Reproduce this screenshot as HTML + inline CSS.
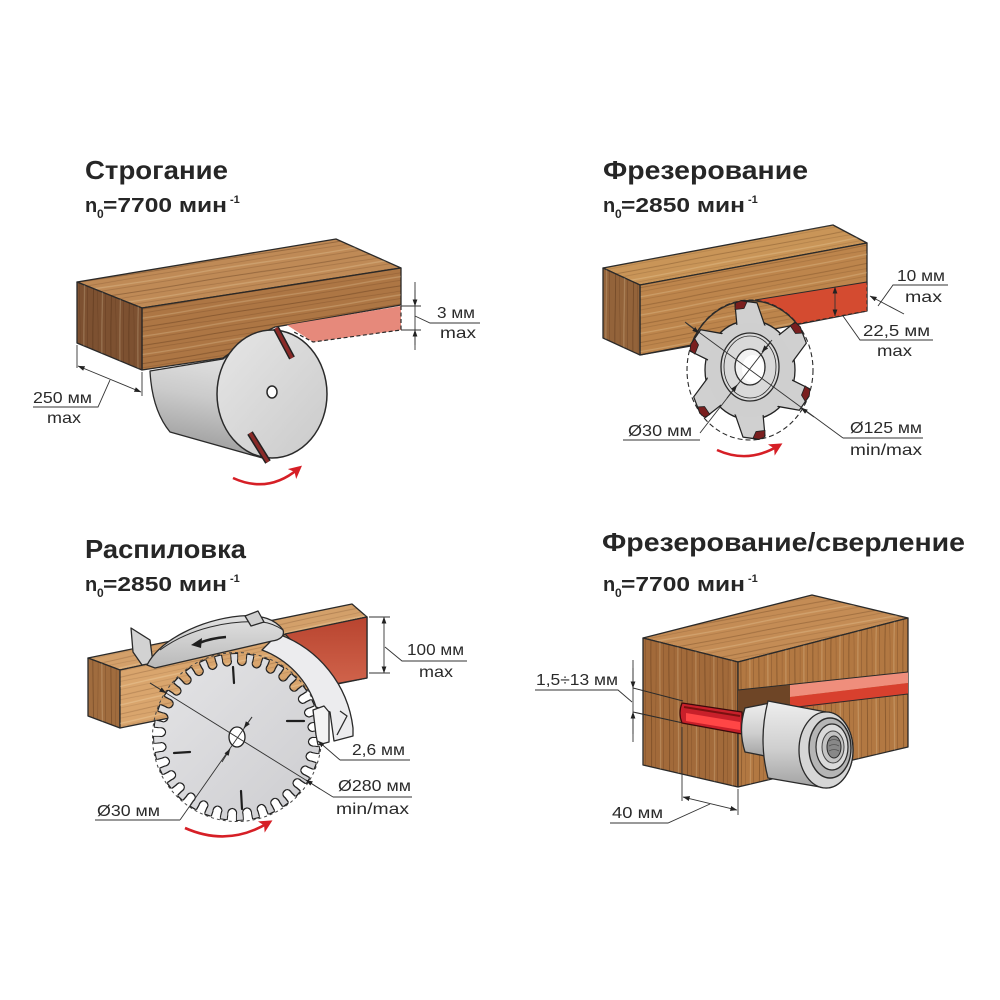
<!DOCTYPE html>
<html><head><meta charset="utf-8"><style>
html,body{margin:0;padding:0;background:#fff;}
svg{display:block;}
text{font-family:"Liberation Sans","DejaVu Sans",sans-serif;}
</style></head><body>
<svg width="1000" height="1000" viewBox="0 0 1000 1000" xmlns="http://www.w3.org/2000/svg">
<defs>
<marker id="a" viewBox="0 0 10 10" refX="9.5" refY="5" markerUnits="userSpaceOnUse" markerWidth="7" markerHeight="7" orient="auto-start-reverse"><path d="M0,1.5 L10,5 L0,8.5 Z" fill="#222"/></marker>
<marker id="ra" viewBox="0 0 10 10" refX="6" refY="5" markerUnits="userSpaceOnUse" markerWidth="13" markerHeight="13" orient="auto"><path d="M0,0 L10,5 L0,10 L2.5,5 Z" fill="#d61f26"/></marker>
<pattern id="gh1" width="160" height="18" patternUnits="userSpaceOnUse" patternTransform="rotate(-9)">
<path d="M0,3 C40,2 80,5 160,3" stroke="#3a1a05" stroke-opacity=".3" stroke-width="1" fill="none"/>
<path d="M0,8 C50,9 100,6 160,8" stroke="#3a1a05" stroke-opacity=".2" stroke-width=".7" fill="none"/>
<path d="M0,12 C60,11 90,14 160,12" stroke="#fff0c8" stroke-opacity=".22" stroke-width="1.3" fill="none"/>
<path d="M0,15.5 C40,16 120,15 160,15.5" stroke="#3a1a05" stroke-opacity=".3" stroke-width=".6" fill="none"/>
</pattern>
<pattern id="gh2" width="160" height="18" patternUnits="userSpaceOnUse" patternTransform="rotate(-10.5)">
<path d="M0,3 C40,2 80,5 160,3" stroke="#3a1a05" stroke-opacity=".25" stroke-width="1" fill="none"/>
<path d="M0,8 C50,9 100,6 160,8" stroke="#3a1a05" stroke-opacity=".18" stroke-width=".7" fill="none"/>
<path d="M0,12 C60,11 90,14 160,12" stroke="#fff0c8" stroke-opacity=".22" stroke-width="1.3" fill="none"/>
<path d="M0,15.5 C40,16 120,15 160,15.5" stroke="#3a1a05" stroke-opacity=".25" stroke-width=".6" fill="none"/>
</pattern>
<pattern id="gh3" width="160" height="18" patternUnits="userSpaceOnUse" patternTransform="rotate(-12)">
<path d="M0,3 C40,2 80,5 160,3" stroke="#3a1a05" stroke-opacity=".2" stroke-width="1" fill="none"/>
<path d="M0,8 C50,9 100,6 160,8" stroke="#3a1a05" stroke-opacity=".15" stroke-width=".7" fill="none"/>
<path d="M0,12 C60,11 90,14 160,12" stroke="#fff0c8" stroke-opacity=".25" stroke-width="1.3" fill="none"/>
<path d="M0,15.5 C40,16 120,15 160,15.5" stroke="#3a1a05" stroke-opacity=".2" stroke-width=".6" fill="none"/>
</pattern>
<pattern id="gv" width="18" height="160" patternUnits="userSpaceOnUse">
<path d="M3,0 C2,40 5,80 3,160" stroke="#3a1a05" stroke-opacity=".3" stroke-width="1" fill="none"/>
<path d="M8,0 C9,50 6,100 8,160" stroke="#3a1a05" stroke-opacity=".2" stroke-width=".7" fill="none"/>
<path d="M12,0 C11,60 14,90 12,160" stroke="#fff0c8" stroke-opacity=".2" stroke-width="1.3" fill="none"/>
<path d="M15.5,0 C16,40 15,120 15.5,160" stroke="#3a1a05" stroke-opacity=".3" stroke-width=".6" fill="none"/>
</pattern>
<linearGradient id="cyl1" gradientUnits="userSpaceOnUse" x1="205" y1="340" x2="185" y2="450"><stop offset="0" stop-color="#e8e8e8"/><stop offset=".5" stop-color="#cbcbcb"/><stop offset="1" stop-color="#9c9c9c"/></linearGradient>
<linearGradient id="face1" x1="0" y1="0" x2="1" y2="1"><stop offset="0" stop-color="#e6e6e6"/><stop offset="1" stop-color="#cacaca"/></linearGradient>
<linearGradient id="metalV" x1="0" y1="0" x2="0" y2="1"><stop offset="0" stop-color="#eeeeee"/><stop offset=".55" stop-color="#cfcfcf"/><stop offset="1" stop-color="#a2a2a2"/></linearGradient>
<linearGradient id="blade" x1="0" y1="0" x2="1" y2="1"><stop offset="0" stop-color="#e4e4e6"/><stop offset="1" stop-color="#cdcdd0"/></linearGradient>
<linearGradient id="red3" x1="0" y1="0" x2="0" y2="1"><stop offset="0" stop-color="#b8442f"/><stop offset="1" stop-color="#d0634b"/></linearGradient>
<linearGradient id="guard" x1="0" y1="0" x2="0" y2="1"><stop offset="0" stop-color="#e2e2e2"/><stop offset="1" stop-color="#b9b9b9"/></linearGradient>
<mask id="teeth" maskUnits="userSpaceOnUse" x="140" y="640" width="200" height="200">
<circle cx="237" cy="737" r="83" fill="#fff"/>
<circle cx="237" cy="737" r="80" fill="none" stroke="#000" stroke-width="8" stroke-dasharray="10 5.708"/>
<circle cx="237" cy="737" r="76" fill="none" stroke="#000" stroke-width="10" stroke-dasharray="0.01 14.9126" stroke-dashoffset="-4.75" stroke-linecap="round"/>
</mask>
<filter id="ol" x="-10%" y="-10%" width="120%" height="120%">
<feMorphology in="SourceAlpha" operator="dilate" radius="1.2" result="d"/>
<feFlood flood-color="#222"/>
<feComposite in2="d" operator="in" result="o"/>
<feMerge><feMergeNode in="o"/><feMergeNode in="SourceGraphic"/></feMerge>
</filter>
<g id="tooth">
<polygon points="40,-13 60,-15 63,-9 61,7 40,15" fill="#d0d0d0" stroke="#222" stroke-width="1.2" stroke-linejoin="round"/>
<polygon points="55,-15 61,-14.5 63,-9 62,-3 56,-6" fill="#7a1f1f" stroke="#222" stroke-width=".8"/>
</g>
</defs>

<rect width="1000" height="1000" fill="#fff"/>

<!-- ================= PANEL 1 ================= -->
<g stroke="#2a2a2a" stroke-width="1.3" stroke-linejoin="round">
<path d="M77,282 L336,239 L401,268 L142,308 Z" fill="#bf8a56"/>
<path d="M77,282 L336,239 L401,268 L142,308 Z" fill="url(#gh1)" stroke="none"/>
<path d="M142,370 L223,358 Q250,338 275,327 L287,325 L401,305 L401,268 L142,308 Z" fill="#ad7644"/>
<path d="M142,370 L223,358 Q250,338 275,327 L287,325 L401,305 L401,268 L142,308 Z" fill="url(#gh1)" stroke="none"/>
<path d="M77,282 L142,308 L142,370 L77,343 Z" fill="#7d5131"/>
<path d="M77,282 L142,308 L142,370 L77,343 Z" fill="url(#gv)" stroke="none"/>
<path d="M287,325 L401,306 L401,330 L313,342 Z" fill="#e6897b" stroke="none"/>
<path d="M401,306 L401,330 L313,342 L292,331" fill="none" stroke-dasharray="4 2.5" stroke-width="1.2"/>
<path d="M150,371 L223,359 Q240,345 262,334 L272,394 L266,459 L170,432 Q152,410 150,371 Z" fill="url(#cyl1)"/>
<ellipse cx="272" cy="394" rx="55" ry="64" fill="url(#face1)" stroke-width="1.5"/>
<line x1="276" y1="328" x2="292" y2="358" stroke="#222" stroke-width="6.5"/>
<line x1="276" y1="328" x2="292" y2="358" stroke="#8a2a28" stroke-width="3.5"/>
<line x1="250" y1="433" x2="268" y2="462" stroke="#222" stroke-width="6.5"/>
<line x1="250" y1="433" x2="268" y2="462" stroke="#8a2a28" stroke-width="3.5"/>
<ellipse cx="272" cy="392" rx="5" ry="6" fill="#fff" stroke-width="1.5"/>
</g>
<path d="M233,478 Q268,494 298,469" fill="none" stroke="#d61f26" stroke-width="2.6" marker-end="url(#ra)"/>
<g stroke="#333" stroke-width=".9" fill="none">
<line x1="415" y1="282" x2="415" y2="350"/>
<line x1="415" y1="290" x2="415" y2="306" marker-end="url(#a)"/>
<line x1="415" y1="345" x2="415" y2="330" marker-end="url(#a)"/>
<line x1="401" y1="306" x2="421" y2="306"/>
<line x1="401" y1="330" x2="421" y2="330"/>
<polyline points="415,316 430,323 480,323"/>
<line x1="77" y1="345" x2="77" y2="368"/>
<line x1="142" y1="372" x2="142" y2="396"/>
<line x1="78" y1="366" x2="141" y2="392" marker-start="url(#a)" marker-end="url(#a)"/>
<polyline points="110,380 98,407 33,407"/>
</g>

<!-- ================= PANEL 2 ================= -->
<g stroke="#2a2a2a" stroke-width="1.3" stroke-linejoin="round">
<path d="M603,268 L833,225 L867,243 L640,285 Z" fill="#c99558"/>
<path d="M603,268 L833,225 L867,243 L640,285 Z" fill="url(#gh2)" stroke="none"/>
<path d="M640,285 L867,243 L867,311 L640,355 Z" fill="#bd854c"/>
<path d="M640,285 L867,243 L867,311 L640,355 Z" fill="url(#gh2)" stroke="none"/>
<path d="M603,268 L640,285 L640,355 L603,338 Z" fill="#93633a"/>
<path d="M603,268 L640,285 L640,355 L603,338 Z" fill="url(#gv)" stroke="none"/>
<path d="M755,300 L867,282 L867,311 L797,324 A63,70 0 0 0 755,300 Z" fill="#d44b30" stroke="none"/>
<line x1="755" y1="300" x2="867" y2="282" stroke-width="1"/>
<path d="M797,324 L867,311 L867,282" fill="none" stroke-dasharray="4 2.5" stroke-width="1.1"/>
<path d="M640,355 L691,346" fill="none"/>
<ellipse cx="750" cy="370" rx="63" ry="70" fill="none" stroke-dasharray="5 3" stroke-width="1.1"/>
<path d="M691,346 A63,70 0 0 1 797,324" fill="none" stroke-width="1.4"/>
<g transform="translate(750,370) scale(1,1.1)">
<circle r="45" fill="#cfcfcf" stroke="#222" stroke-width="1.3"/>
<use href="#tooth" transform="rotate(-90)"/>
<use href="#tooth" transform="rotate(-30)"/>
<use href="#tooth" transform="rotate(30)"/>
<use href="#tooth" transform="rotate(90)"/>
<use href="#tooth" transform="rotate(150)"/>
<use href="#tooth" transform="rotate(210)"/>
<circle r="43" fill="#cfcfcf" stroke="none"/>
</g>
<ellipse cx="750" cy="367" rx="29" ry="34" fill="#d9d9d9"/>
<ellipse cx="750" cy="367" rx="26" ry="31" fill="none" stroke-width=".8"/>
<ellipse cx="750" cy="367" rx="15" ry="18" fill="#f2f2f2"/>
<ellipse cx="753" cy="369" rx="11" ry="14" fill="#fff" stroke="none"/>
</g>
<path d="M717,450 Q748,464 778,446" fill="none" stroke="#d61f26" stroke-width="2.6" marker-end="url(#ra)"/>
<g stroke="#333" stroke-width=".9" fill="none">
<line x1="685" y1="322" x2="843" y2="438"/>
<line x1="686" y1="323" x2="699" y2="333" marker-end="url(#a)"/>
<line x1="814" y1="417" x2="801" y2="408" marker-end="url(#a)"/>
<line x1="843" y1="438" x2="923" y2="438"/>
<line x1="700" y1="433" x2="770" y2="343"/>
<line x1="727" y1="398" x2="737" y2="385" marker-end="url(#a)"/>
<line x1="772" y1="340" x2="762" y2="352" marker-end="url(#a)"/>
<line x1="623" y1="440" x2="700" y2="440"/>
<line x1="835" y1="287" x2="835" y2="316" marker-start="url(#a)" marker-end="url(#a)"/>
<polyline points="843,316 860,340 933,340"/>
<line x1="870" y1="296" x2="904" y2="314" marker-start="url(#a)"/>
<polyline points="878,306 893,285 948,285"/>
</g>

<!-- ================= PANEL 3 ================= -->
<g stroke="#2a2a2a" stroke-width="1.3" stroke-linejoin="round">
<path d="M88,658 L352,604 L367,617 L120,670 Z" fill="#d3a06a"/>
<path d="M88,658 L352,604 L367,617 L120,670 Z" fill="url(#gh3)" stroke="none"/>
<path d="M88,658 L120,670 L120,728 L88,716 Z" fill="#a06c3e"/>
<path d="M88,658 L120,670 L120,728 L88,716 Z" fill="url(#gv)" stroke="none"/>
<path d="M120,670 L367,617 L367,678 L120,728 Z" fill="#d9a56d"/>
<path d="M120,670 L367,617 L367,678 L120,728 Z" fill="url(#gh3)" stroke="none"/>
<path d="M285,634 L367,617 L367,678 L335,684 Z" fill="url(#red3)"/>
</g>
<g filter="url(#ol)"><circle cx="237" cy="737" r="83" fill="url(#blade)" mask="url(#teeth)"/></g>
<circle cx="237" cy="737" r="84.5" fill="none" stroke="#444" stroke-width="1" stroke-dasharray="3 3"/>
<g stroke="#1e1e1e" stroke-width="2.2" stroke-linecap="round">
<line x1="233" y1="667" x2="234" y2="683"/>
<line x1="287" y1="721" x2="304" y2="721"/>
<line x1="174" y1="753" x2="190" y2="752"/>
<line x1="241" y1="791" x2="242" y2="809"/>
</g>
<ellipse cx="237" cy="737" rx="8" ry="10" fill="#fff" stroke="#222" stroke-width="1.3"/>
<g stroke="#333" stroke-width=".9" fill="none">
<line x1="150" y1="683" x2="333" y2="797"/>
<line x1="150" y1="683" x2="166" y2="693" marker-end="url(#a)"/>
<line x1="320" y1="789" x2="306" y2="780" marker-end="url(#a)"/>
<line x1="333" y1="797" x2="412" y2="797"/>
<line x1="180" y1="820" x2="252" y2="717"/>
<line x1="222" y1="762" x2="230" y2="749" marker-end="url(#a)"/>
<line x1="252" y1="717" x2="244" y2="728" marker-end="url(#a)"/>
<line x1="95" y1="820" x2="180" y2="820"/>
</g>
<g stroke="#2a2a2a" stroke-width="1.3" stroke-linejoin="round">
<path d="M278,634 A114,114 0 0 1 353,728 L353,736 L334,741 L330,712 L316,707 A89,89 0 0 0 262,650 Z" fill="#ececee"/>
<path d="M313,710 L324,706 L329,712 L329,742 L318,745 L316,735 Z" fill="#f4f4f4"/>
<path d="M340,711 L347,716 L337,735" fill="none"/>
<path d="M131,628 L150,640 L153,663 L142,665 L133,652 Z" fill="#d2d2d2"/>
<path d="M147,665 C160,640 200,620 240,616 C262,614 276,620 283,630 C285,636 280,640 272,641 L155,668 Z" fill="url(#guard)"/>
<path d="M160,650 C190,628 230,620 262,622 C272,623 280,628 283,630" fill="none" stroke-width="1"/>
<path d="M245,616 L258,611 L264,622 L251,626 Z" fill="#cfcfcf"/>
</g>
<path d="M226,637 Q212,638 199,643" fill="none" stroke="#1e1e1e" stroke-width="2.6"/>
<path d="M191,645 L202,638 L201,648 Z" fill="#1e1e1e"/>
<path d="M185,828 Q228,847 268,823" fill="none" stroke="#d61f26" stroke-width="2.6" marker-end="url(#ra)"/>
<g stroke="#333" stroke-width=".9" fill="none">
<line x1="384" y1="617" x2="384" y2="673" marker-start="url(#a)" marker-end="url(#a)"/>
<line x1="369" y1="617" x2="390" y2="617"/>
<line x1="369" y1="673" x2="390" y2="673"/>
<polyline points="385,647 402,661 467,661"/>
<line x1="340" y1="760" x2="318" y2="741" marker-end="url(#a)"/>
<line x1="340" y1="760" x2="410" y2="760"/>
</g>

<!-- ================= PANEL 4 ================= -->
<g stroke="#2a2a2a" stroke-width="1.3" stroke-linejoin="round">
<path d="M643,638 L812,595 L908,618 L738,662 Z" fill="#c48c55"/>
<path d="M643,638 L812,595 L908,618 L738,662 Z" fill="url(#gh2)" stroke="none"/>
<path d="M643,638 L738,662 L738,787 L643,765 Z" fill="#a26a3a"/>
<path d="M643,638 L738,662 L738,787 L643,765 Z" fill="url(#gv)" stroke="none"/>
<path d="M738,662 L908,618 L908,747 L738,787 Z" fill="#b27842"/>
<path d="M738,662 L908,618 L908,747 L738,787 Z" fill="url(#gv)" stroke="none"/>
<path d="M738,690 L790,685 L790,709 L738,714 Z" fill="#6e4526" stroke="none"/>
<path d="M790,685 L908,672 L908,683 L790,697 Z" fill="#ef8e7c" stroke="none"/>
<path d="M790,697 L908,683 L908,694 L790,709 Z" fill="#d8402e" stroke="none"/>
<line x1="738" y1="690" x2="908" y2="672" stroke-width="1"/>
<line x1="738" y1="714" x2="908" y2="694" stroke-width="1"/>
<line x1="633" y1="688" x2="683" y2="701" stroke-width="1"/>
<line x1="633" y1="712" x2="683" y2="723" stroke-width="1"/>
<path d="M682,703 L742,712 L742,734 L682,723 Q678,713 682,703 Z" fill="#c8202a" stroke="#3a0a0a" stroke-width="1.2"/>
<path d="M686,713 L740,722 L740,730 L686,721 Z" fill="#ff4646" stroke="none"/>
<line x1="684" y1="707" x2="740" y2="716" stroke="#7a1010" stroke-width="2"/>
<path d="M745,708 L770,703 L770,757 L745,752 Q738,730 745,708 Z" fill="url(#metalV)"/>
<path d="M768,701 L826,712 A27,38 0 0 1 826,788 L768,778 Q758,740 768,701 Z" fill="url(#metalV)"/>
<ellipse cx="826" cy="750" rx="27" ry="38" fill="#d6d6d6"/>
<ellipse cx="830" cy="748" rx="21" ry="30" fill="#b5b5b5" stroke-width="1.4"/>
<ellipse cx="832" cy="747" rx="16" ry="23" fill="#dadada" stroke-width="1.2"/>
<ellipse cx="833" cy="747" rx="11" ry="16" fill="#c4c4c4" stroke="#444" stroke-width="1"/>
<ellipse cx="834" cy="747" rx="7" ry="11" fill="#888" stroke-width="1"/>
<path d="M829,741 Q834,738 839,741 M829,746 Q834,743 839,746 M829,751 Q834,748 839,751" fill="none" stroke="#555" stroke-width=".8"/>
</g>
<g stroke="#333" stroke-width=".9" fill="none">
<line x1="633" y1="660" x2="633" y2="742"/>
<line x1="633" y1="668" x2="633" y2="688" marker-end="url(#a)"/>
<line x1="633" y1="734" x2="633" y2="712" marker-end="url(#a)"/>
<polyline points="535,690 618,690 632,702"/>
<line x1="682" y1="727" x2="682" y2="801"/>
<line x1="738" y1="789" x2="738" y2="815"/>
<line x1="683" y1="797" x2="737" y2="810" marker-start="url(#a)" marker-end="url(#a)"/>
<polyline points="710,804 668,823 610,823"/>
</g>

<!-- ================= TEXT ================= -->
<g fill="#262626" font-weight="bold">
<text x="85" y="179" font-size="26" textLength="143" lengthAdjust="spacingAndGlyphs">Строгание</text>
<text x="603" y="179" font-size="26" textLength="205" lengthAdjust="spacingAndGlyphs">Фрезерование</text>
<text x="85" y="558" font-size="26" textLength="161" lengthAdjust="spacingAndGlyphs">Распиловка</text>
<text x="602" y="551" font-size="26" textLength="363" lengthAdjust="spacingAndGlyphs">Фрезерование/сверление</text>

<text x="85" y="212" font-size="20">n</text><text x="97" y="218" font-size="12">0</text>
<text x="103" y="212" font-size="20" textLength="124" lengthAdjust="spacingAndGlyphs">=7700 мин</text><text x="230" y="203" font-size="11">-1</text>

<text x="603" y="212" font-size="20">n</text><text x="615" y="218" font-size="12">0</text>
<text x="621" y="212" font-size="20" textLength="124" lengthAdjust="spacingAndGlyphs">=2850 мин</text><text x="748" y="203" font-size="11">-1</text>

<text x="85" y="591" font-size="20">n</text><text x="97" y="597" font-size="12">0</text>
<text x="103" y="591" font-size="20" textLength="124" lengthAdjust="spacingAndGlyphs">=2850 мин</text><text x="230" y="582" font-size="11">-1</text>

<text x="603" y="591" font-size="20">n</text><text x="615" y="597" font-size="12">0</text>
<text x="621" y="591" font-size="20" textLength="124" lengthAdjust="spacingAndGlyphs">=7700 мин</text><text x="748" y="582" font-size="11">-1</text>
</g>
<g fill="#2a2a2a" font-size="16">
<text x="437" y="318" textLength="38" lengthAdjust="spacingAndGlyphs">3 мм</text>
<text x="440" y="338" textLength="36" lengthAdjust="spacingAndGlyphs">max</text>
<text x="33" y="403" textLength="59" lengthAdjust="spacingAndGlyphs">250 мм</text>
<text x="47" y="423" textLength="34" lengthAdjust="spacingAndGlyphs">max</text>
<text x="897" y="281" textLength="48" lengthAdjust="spacingAndGlyphs">10 мм</text>
<text x="905" y="302" textLength="37" lengthAdjust="spacingAndGlyphs">max</text>
<text x="863" y="336" textLength="67" lengthAdjust="spacingAndGlyphs">22,5 мм</text>
<text x="877" y="356" textLength="35" lengthAdjust="spacingAndGlyphs">max</text>
<text x="628" y="436" textLength="64" lengthAdjust="spacingAndGlyphs">Ø30 мм</text>
<text x="850" y="433" textLength="72" lengthAdjust="spacingAndGlyphs">Ø125 мм</text>
<text x="850" y="455" textLength="72" lengthAdjust="spacingAndGlyphs">min/max</text>
<text x="407" y="655" textLength="57" lengthAdjust="spacingAndGlyphs">100 мм</text>
<text x="419" y="677" textLength="34" lengthAdjust="spacingAndGlyphs">max</text>
<text x="352" y="755" textLength="53" lengthAdjust="spacingAndGlyphs">2,6 мм</text>
<text x="338" y="791" textLength="73" lengthAdjust="spacingAndGlyphs">Ø280 мм</text>
<text x="336" y="814" textLength="73" lengthAdjust="spacingAndGlyphs">min/max</text>
<text x="97" y="816" textLength="63" lengthAdjust="spacingAndGlyphs">Ø30 мм</text>
<text x="536" y="685" textLength="82" lengthAdjust="spacingAndGlyphs">1,5÷13 мм</text>
<text x="612" y="818" textLength="51" lengthAdjust="spacingAndGlyphs">40 мм</text>
</g>
</svg>
</body></html>
